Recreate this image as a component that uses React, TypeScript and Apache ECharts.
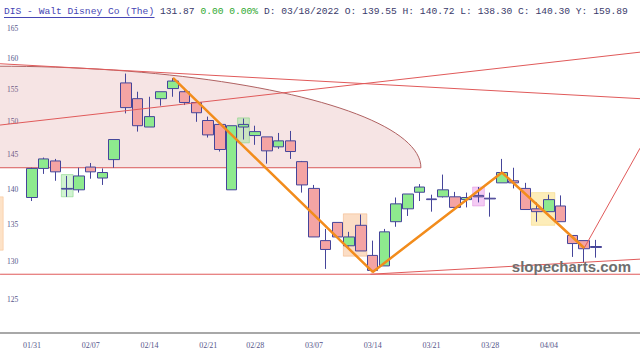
import React, { useEffect, useRef } from 'react';
import * as echarts from 'echarts';

// ---- data ----
const dates = ['01/31','02/01','02/02','02/03','02/04','02/07','02/08','02/09','02/10','02/11','02/14','02/15','02/16','02/17','02/18','02/22','02/23','02/24','02/25','02/28','03/01','03/02','03/03','03/04','03/07','03/08','03/09','03/10','03/11','03/14','03/15','03/16','03/17','03/18','03/21','03/22','03/23','03/24','03/25','03/28','03/29','03/30','03/31','04/01','04/04','04/05','04/06','04/07','04/08'];
const opens = [138.8,143.0,144.1,140.0,139.9, 143.2,141.6,144.3,156.1,153.6, 149.2,153.6,155.2,154.7,153.0, 150.2,149.6,139.9,149.2,147.9, 147.7,146.2,147.1,144.0,140.1, 132.8,135.3,132.1,134.9,130.8, 129.4,135.4,137.2,139.55,138.6, 138.9,138.9,138.5,139.1,138.7, 140.9,141.2,140.1,137.2,136.8, 137.6,133.5,132.8,132.0];
const closes = [143.0,144.4,142.5,140.1,141.9, 142.5,142.4,147.3,152.2,149.4, 150.8,154.7,156.4,153.0,151.4, 148.0,145.8,149.4,149.6,148.5, 145.6,147.1,145.5,140.6,133.3, 131.6,133.3,133.3,131.4,128.8, 134.0,137.9,139.3,140.30,138.5, 139.9,137.4,138.8,138.9,138.6, 142.4,140.9,137.1,136.8,138.5, 135.4,132.4,131.7,131.87];
const lows = [138.3,142.2,141.2,138.9,139.5, 141.5,140.6,143.1,151.3,148.5, 149.2,152.5,153.9,152.6,150.0, 147.6,145.5,139.9,147.3,146.5, 143.7,145.9,144.4,139.5,133.3, 129.0,133.3,132.0,131.4,128.6, 129.4,134.7,136.2,138.30,136.8, 138.8,137.4,137.4,138.1,136.1, 140.9,140.1,137.1,135.4,136.8, 135.4,130.6,129.8,130.5];
const highs = [143.1,144.6,144.4,141.9,143.1, 143.8,143.0,147.3,157.6,154.7, 153.9,154.7,156.9,155.3,153.4, 150.8,149.7,149.4,150.5,149.4, 147.7,148.3,148.6,144.1,140.6, 134.4,135.3,134.0,136.4,132.8, 134.4,138.8,139.3,140.72,139.2, 142.1,139.6,139.5,140.3,139.5, 144.4,143.1,140.9,138.1,139.2, 139.1,133.5,132.8,132.9];

const weekIdx = [0, 5, 10, 15, 19, 24, 29, 34, 39, 44];
const weekLabels = ['01/31','02/07','02/14','02/21','02/28','03/07','03/14','03/21','03/28','04/04'];
const priceTicks = [125, 130, 135, 140, 145, 150, 155, 160, 165];

// orange swing line (index, price)
const zigzagIdx = [12, 29, 40, 47];
const zigzagPrice = [156.9, 128.6, 142.4, 131.8];

// thin red trend lines: [x1, x2], [p1, p2]
const trendX = [[-2.72, 51.75], [-2.72, 51.75], [-2.72, 51.75], [28.8, 51.75], [47, 51.75]];
const trendP = [[159.2, 153.6], [149.5, 161.1], [128.3, 128.3], [128.3, 130.3], [131.8, 146.0]];

// half ellipse
const ellipseCenterIdx = -3;
const ellipseRightIdx = 33.1;
const ellipseBase = 143.1;
const ellipseTop = 158.8;

// highlight boxes
const boxX1 = [2.5, 17.5, 26.5, 37.5, 42.5, -3.5];
const boxX2 = [3.5, 18.5, 28.5, 38.5, 44.5, -2.45];
const boxHigh = [142.1, 150.6, 136.5, 140.3, 139.5, 138.9];
const boxLow = [138.9, 146.8, 130.7, 137.6, 134.9, 131.5];
const boxFill = ['rgba(140,225,140,0.4)', 'rgba(140,225,140,0.4)', 'rgba(245,170,110,0.4)', 'rgba(230,140,230,0.45)', 'rgba(250,215,100,0.45)', 'rgba(250,190,130,0.45)'];
const boxStroke = ['rgba(120,210,120,0.5)', 'rgba(120,210,120,0.5)', 'rgba(240,160,100,0.4)', 'rgba(220,120,220,0.4)', 'rgba(245,205,90,0.4)', 'rgba(245,180,120,0.4)'];

const ln = Math.log;

export default function App() {
  const ref = useRef<HTMLDivElement>(null);
  useEffect(() => {
    const chart = echarts.init(ref.current!, null, { renderer: 'svg' });
    const candleData = dates.map((d, i) => [i, ln(opens[i]), ln(closes[i]), ln(lows[i]), ln(highs[i])]);
    const labelColor = '#55558a';
    const trendSeries = trendX.map((xs, k) => ({
      type: 'line',
      data: [[xs[0], ln(trendP[k][0])], [xs[1], ln(trendP[k][1])]],
      symbol: 'none',
      silent: true,
      z: 4,
      lineStyle: { color: '#e05a5a', width: 1 },
    }));
    const option: any = {
      animation: false,
      backgroundColor: '#ffffff',
      title: {
        left: 4,
        top: 6,
        padding: 0,
        text: '{a|DIS - Walt Disney Co (The)} 131.87 {g|0.00 0.00%} D: 03/18/2022 O: 139.55 H: 140.72 L: 138.30 C: 140.30 Y: 159.89',
        textStyle: {
          fontFamily: '"Liberation Mono", monospace',
          fontSize: 9.65,
          fontWeight: 'normal',
          color: '#3a3a6a',
          rich: {
            a: { fontFamily: '"Liberation Mono", monospace', fontSize: 9.65, color: '#4646b4' },
            g: { fontFamily: '"Liberation Mono", monospace', fontSize: 9.65, color: '#2fa82f' },
          },
        },
      },
      graphic: [
        { type: 'line', shape: { x1: 4, y1: 17.5, x2: 154.5, y2: 17.5 }, style: { stroke: '#4646b4', lineWidth: 1 }, silent: true },
        { type: 'text', right: 9, top: 259, style: { text: 'slopecharts.com', font: 'bold 15px "Liberation Sans", Arial, sans-serif', fill: '#6e6e6e' }, silent: true, z: 100 },
      ],
      grid: { left: 0, right: 0, top: 20, bottom: 24, containLabel: false, outerBoundsMode: 'none' },
      xAxis: {
        type: 'value',
        min: -2.723,
        max: 51.745,
        splitLine: { show: false },
        axisTick: { show: false },
        axisLine: { show: true, onZero: false, lineStyle: { color: '#a8a8a8', width: 2 } },
        axisLabel: {
          customValues: weekIdx,
          formatter: (v: number) => weekLabels[weekIdx.indexOf(Math.round(v))] ?? '',
          fontFamily: '"Liberation Serif", serif',
          fontSize: 8,
          color: labelColor,
          margin: 8,
        },
      },
      yAxis: {
        type: 'value',
        min: ln(120.8),
        max: ln(166.5),
        splitLine: { show: false },
        axisTick: { show: false },
        axisLine: { show: false },
        axisLabel: {
          inside: true,
          customValues: priceTicks.map((p) => ln(p)),
          formatter: (v: number) => String(Math.round(Math.exp(v))),
          fontFamily: '"Liberation Serif", serif',
          fontSize: 7.5,
          color: labelColor,
          margin: 7,
        },
      },
      series: [
        {
          type: 'custom',
          z: 1,
          silent: true,
          clip: true,
          data: [[ellipseCenterIdx, ln(ellipseBase)]],
          encode: { x: 0, y: 1 },
          renderItem: (params: any, api: any) => {
            const c = api.coord([ellipseCenterIdx, ln(ellipseBase)]);
            const e = api.coord([ellipseRightIdx, ln(ellipseTop)]);
            const rx = e[0] - c[0];
            const ry = c[1] - e[1];
            const pts: number[][] = [];
            for (let k = 0; k <= 90; k++) {
              const t = (Math.PI * k) / 90;
              pts.push([c[0] + rx * Math.cos(t), c[1] - ry * Math.sin(t)]);
            }
            return {
              type: 'group',
              children: [
                { type: 'polygon', shape: { points: pts }, style: { fill: 'rgba(210,120,120,0.2)', stroke: 'none' } },
                { type: 'polyline', shape: { points: pts }, style: { fill: 'none', stroke: '#b06262', lineWidth: 1 } },
                { type: 'line', shape: { x1: c[0] - rx, y1: c[1], x2: c[0] + rx, y2: c[1] }, style: { stroke: '#d85858', lineWidth: 1 } },
              ],
            };
          },
        },
        {
          type: 'custom',
          z: 2,
          silent: true,
          clip: true,
          data: boxX1.map((x, i) => [x, ln(boxHigh[i]), boxX2[i], ln(boxLow[i])]),
          encode: { x: [0, 2], y: [1, 3] },
          renderItem: (params: any, api: any) => {
            const i = params.dataIndex;
            const p1 = api.coord([api.value(0), api.value(1)]);
            const p2 = api.coord([api.value(2), api.value(3)]);
            return {
              type: 'rect',
              shape: { x: p1[0], y: p1[1], width: p2[0] - p1[0], height: p2[1] - p1[1] },
              style: { fill: boxFill[i], stroke: boxStroke[i], lineWidth: 1 },
            };
          },
        },
        {
          type: 'candlestick',
          z: 3,
          silent: true,
          barWidth: 11,
          data: candleData,
          itemStyle: {
            color: '#8eea8e',
            color0: '#f4a4a4',
            borderColor: '#45459a',
            borderColor0: '#45459a',
            borderColorDoji: '#45459a',
            borderWidth: 1,
          },
        },
        ...trendSeries,
        {
          type: 'line',
          z: 5,
          silent: true,
          symbol: 'none',
          data: zigzagIdx.map((x, i) => [x, ln(zigzagPrice[i])]),
          lineStyle: { color: '#f28c1c', width: 2.5 },
        },
      ],
    };
    chart.setOption(option);
    return () => chart.dispose();
  }, []);
  return <div ref={ref} style={{ position: 'fixed', left: 0, top: 0, width: 640, height: 357 }} />;
}
